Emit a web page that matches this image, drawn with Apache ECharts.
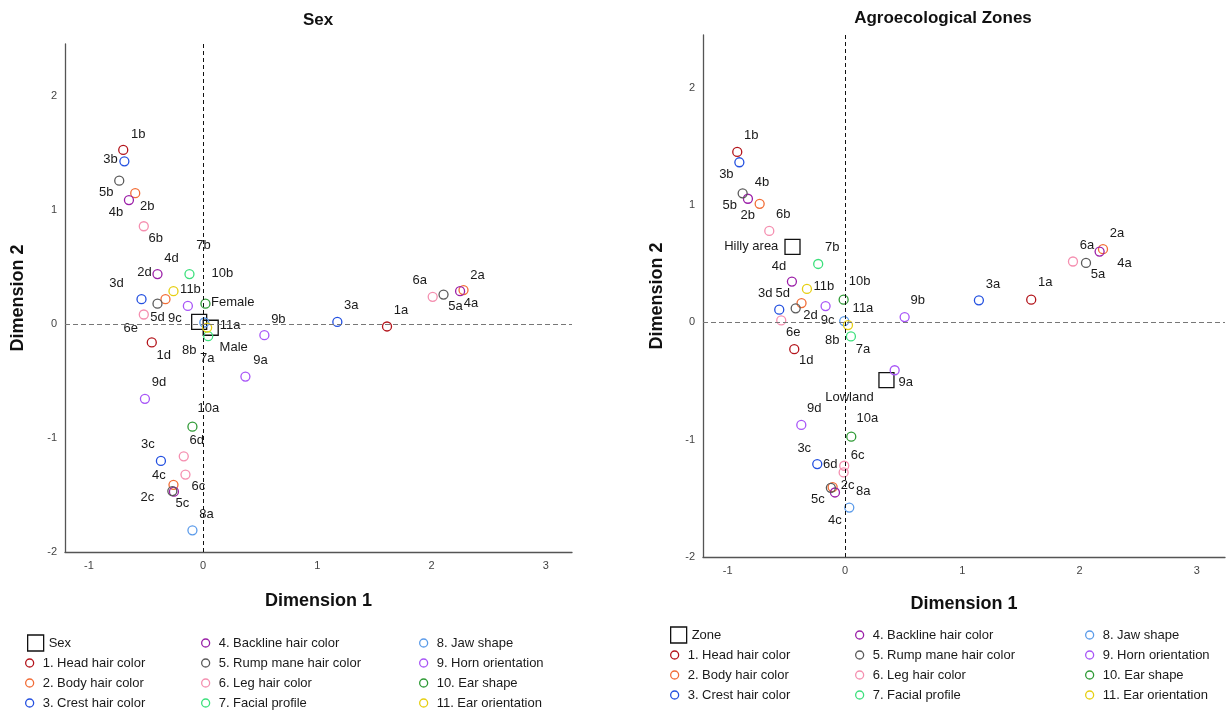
<!DOCTYPE html>
<html><head><meta charset="utf-8">
<script src="https://cdn.jsdelivr.net/npm/echarts@6/dist/echarts.min.js"></script>
<style>html,body{margin:0;padding:0;background:#fff}#c{width:1229px;height:713px}</style>
</head><body><div id="c"></div>
<script>
// ---------- data ----------
const variableNames = ['1. Head hair color','2. Body hair color','3. Crest hair color','4. Backline hair color','5. Rump mane hair color','6. Leg hair color','7. Facial profile','8. Jaw shape','9. Horn orientation','10. Ear shape','11. Ear orientation'];
const categoryLabels = ['1a','1b','1d','2a','2b','2c','2d','3a','3b','3c','3d','4a','4b','4c','4d','5a','5b','5c','5d','6a','6b','6c','6d','6e','7a','7b','8a','8b','9a','9b','9c','9d','10a','10b','11a','11b'];
const sexDim1 = [1.61,-0.70,-0.45,2.28,-0.595,-0.26,-0.33,1.175,-0.69,-0.37,-0.54,2.25,-0.65,-0.256,-0.40,2.105,-0.735,-0.27,-0.40,2.01,-0.52,-0.155,-0.17,-0.52,0.044,-0.12,-0.094,0.01,0.37,0.536,-0.134,-0.51,-0.094,0.02,0.035,-0.26];
const sexDim2 = [-0.02,1.53,-0.16,0.30,1.15,-1.41,0.22,0.02,1.43,-1.20,0.22,0.29,1.09,-1.47,0.44,0.26,1.26,-1.465,0.18,0.24,0.86,-1.32,-1.16,0.085,-0.105,0.44,-1.81,0.015,-0.46,-0.096,0.16,-0.655,-0.90,0.18,-0.03,0.29];
const sexGroups = ['Female','Male'];
const sexGroupDim1 = [-0.035,0.066];
const sexGroupDim2 = [0.02,-0.031];
const zoneDim1 = [1.588,-0.918,-0.432,2.20,-0.727,-0.105,-0.37,1.142,-0.90,-0.236,-0.56,2.171,-0.827,-0.085,-0.452,2.055,-0.872,-0.12,-0.42,1.944,-0.645,-0.011,-0.006,-0.543,0.051,-0.228,0.037,-0.006,0.424,0.509,-0.165,-0.372,0.054,-0.011,0.026,-0.324];
const zoneDim2 = [0.194,1.453,-0.228,0.624,1.011,-1.404,0.165,0.188,1.365,-1.208,0.108,0.604,1.054,-1.45,0.348,0.507,1.10,-1.41,0.12,0.519,0.78,-1.279,-1.222,0.017,-0.12,0.498,-1.579,0.011,-0.408,0.045,0.139,-0.874,-0.974,0.194,-0.023,0.285];
const zoneGroups = ['Hilly area','Lowland'];
const zoneGroupDim1 = [-0.447,0.354];
const zoneGroupDim2 = [0.644,-0.493];
const xTickValues = [-1,0,1,2,3];
const yTickValues = [-2,-1,0,1,2];

// ---------- styling ----------
const colors = ['#B3141B','#F26D36','#2350E0','#9B1FA8','#5A5A5A','#F58FB0','#3CE07C','#5B9BEA','#A855F7','#2E9A35','#E6CF12'];
const sexLabelPos = {'1a':[14,-16],'1b':[15,-16],'1d':[12,13],'2a':[14,-15],'2b':[12,13],'2c':[-26,13],'2d':[-21,-27],
 '3a':[14,-16],'3b':[-14,-2],'3c':[-13,-16],'3d':[-25,-16],'4a':[11,12],'4b':[-13,12],'4c':[-15,-16],'4d':[14,-16],
 '5a':[12,12],'5b':[-13,12],'5c':[10,12],'5d':[0,14],'6a':[-13,-16],'6b':[12,12],'6c':[13,12],'6d':[13,-16],'6e':[-13,14],
 '7a':[-1,22],'7b':[14,-29],'8a':[14,-16],'8b':[-15,28],'9a':[15,-16],'9b':[14,-16],'9c':[-13,12],'9d':[14,-16],
 '10a':[16,-18],'10b':[17,-30],'11a':[23,-2],'11b':[17,-2],'Female':'right','Male':[23,20]};
const zoneLabelPos = {'1a':[14,-17],'1b':[14,-17],'1d':[12,11],'2a':[14,-16],'2b':[-12,12],'2c':[15,-2],'2d':[9,12],
 '3a':[14,-16],'3b':[-13,12],'3c':[-13,-16],'3d':[-14,-16],'4a':[25,12],'4b':[14,-16],'4c':[0,28],'4d':[-13,-15],
 '5a':[12,12],'5b':[-13,12],'5c':[-13,12],'5d':[-13,-15],'6a':[14,-16],'6b':[14,-16],'6c':[14,-17],'6d':[-14,-1],'6e':[12,12],
 '7a':[12,13],'7b':[14,-17],'8a':[14,-16],'8b':[-12,19],'9a':[11,12],'9b':[13,-17],'9c':[2,14],'9d':[13,-16],
 '10a':[16,-18],'10b':[16,-18],'11a':[15,-17],'11b':[17,-3],'Hilly area':'left','Lowland':[-37,17]};
const FONT = "'Liberation Sans', Arial, sans-serif";

function labelFor(p) {
  if (p === 'left') return {position:'left', distance:6};
  if (p === 'right') return {position:[20,-11], align:'left', verticalAlign:'middle'};
  return {position:'inside', offset:p};
}

function buildSeries(dim1, dim2, posMap, gi, groupName, groups, gd1, gd2) {
  const out = variableNames.map((vn, i) => {
    const num = String(i + 1);
    const data = [];
    categoryLabels.forEach((lb, k) => {
      if (lb.replace(/[a-z]+$/, '') === num) {
        data.push({name: lb, value: [dim1[k], dim2[k]], label: labelFor(posMap[lb])});
      }
    });
    return {
      type:'scatter', name: vn, xAxisIndex: gi, yAxisIndex: gi, symbol:'circle', symbolSize: 9,
      itemStyle:{color:'rgba(0,0,0,0)', borderColor: colors[i], borderWidth: 1.3, opacity: 1},
      label:{show:true, formatter: p => p.name, fontSize: 13, color:'#1a1a1a', fontFamily: FONT},
      emphasis:{disabled:true}, z: 3, data
    };
  });
  out.unshift({
    type:'scatter', name: groupName, xAxisIndex: gi, yAxisIndex: gi, symbol:'rect', symbolSize: 15,
    itemStyle:{color:'rgba(0,0,0,0)', borderColor:'#111', borderWidth:1.3, opacity: 1},
    label:{show:true, formatter: p => p.name, fontSize: 13, color:'#1a1a1a', fontFamily: FONT},
    emphasis:{disabled:true}, z: 2,
    data: groups.map((g, k) => ({name: g, value: [gd1[k], gd2[k]], label: labelFor(posMap[g])})),
    markLine:{silent:true, symbol:'none', animation:false, label:{show:false}, emphasis:{disabled:true},
      data:[{xAxis:0, lineStyle:{color:'#111', type:[4,3], width:1}},
            {yAxis:0, lineStyle:{color:'#777', type:[5,3], width:1.2}}]}
  });
  return out;
}

function xAxisCfg(gi, min, max, gap) {
  return {type:'value', gridIndex: gi, min, max, splitLine:{show:false},
    axisLine:{show:true, onZero:false, lineStyle:{color:'#555', width:1.3}}, axisTick:{show:false},
    axisLabel:{customValues: xTickValues, fontSize: 11, color:'#444', margin: 8, fontFamily: FONT},
    name:'Dimension 1', nameLocation:'middle', nameGap: gap,
    nameTextStyle:{fontSize:18, fontWeight:'bold', color:'#111', fontFamily: FONT}};
}
function yAxisCfg(gi, min, max, gap) {
  return {type:'value', gridIndex: gi, min, max, splitLine:{show:false},
    axisLine:{show:true, onZero:false, lineStyle:{color:'#555', width:1.3}}, axisTick:{show:false},
    axisLabel:{customValues: yTickValues, fontSize: 11, color:'#444', margin: 8, fontFamily: FONT},
    name:'Dimension 2', nameLocation:'middle', nameGap: gap,
    nameTextStyle:{fontSize:18, fontWeight:'bold', color:'#111', fontFamily: FONT}};
}

function circleItems(idxs) {
  return idxs.map(i => ({name: variableNames[i], icon:'circle',
    itemStyle:{color:'#fff', borderColor: colors[i], borderWidth: 1.3}}));
}
const legendBase = {orient:'vertical', padding:0, itemGap:0, itemWidth:16, itemHeight:8, selectedMode:false,
  textStyle:{fontSize:13, color:'#1a1a1a', lineHeight:20, fontFamily: FONT}};
function squareLegend(name, left, top) {
  return Object.assign({}, legendBase, {left, top, itemWidth:16, itemHeight:16,
    data:[{name, icon:'rect', itemStyle:{color:'#fff', borderColor:'#111', borderWidth:1.3}}]});
}
function circleLegend(idxs, left, top) {
  return Object.assign({}, legendBase, {left, top, data: circleItems(idxs)});
}

const option = {
  animation:false,
  textStyle:{fontFamily: FONT},
  title:[
    {text:'Sex', left: 318, top: 12, textAlign:'center', padding:0, textStyle:{fontSize:17, fontWeight:'bold', color:'#111', fontFamily: FONT}},
    {text:'Agroecological Zones', left: 943, top: 10, textAlign:'center', padding:0, textStyle:{fontSize:17, fontWeight:'bold', color:'#111', fontFamily: FONT}}
  ],
  grid:[
    {left:65, top:44, width:507, height:508},
    {left:703, top:35, width:522, height:522}
  ],
  xAxis:[xAxisCfg(0, -1.21, 3.23, 40), xAxisCfg(1, -1.21, 3.24, 38)],
  yAxis:[yAxisCfg(0, -2, 2.46, 38), yAxisCfg(1, -2, 2.45, 37)],
  legend:[
    squareLegend('Sex', 27, 633),
    circleLegend([0,1,2], 25, 653),
    circleLegend([3,4,5,6], 201, 633),
    circleLegend([7,8,9,10], 419, 633),
    squareLegend('Zone', 670, 625),
    circleLegend([0,1,2], 670, 645),
    circleLegend([3,4,5,6], 855, 625),
    circleLegend([7,8,9,10], 1085, 625)
  ],
  series: [].concat(
    buildSeries(sexDim1, sexDim2, sexLabelPos, 0, 'Sex', sexGroups, sexGroupDim1, sexGroupDim2),
    buildSeries(zoneDim1, zoneDim2, zoneLabelPos, 1, 'Zone', zoneGroups, zoneGroupDim1, zoneGroupDim2)
  )
};
const chart = echarts.init(document.getElementById('c'), null, {renderer:'canvas'});
chart.setOption(option);
</script>
</body></html>
